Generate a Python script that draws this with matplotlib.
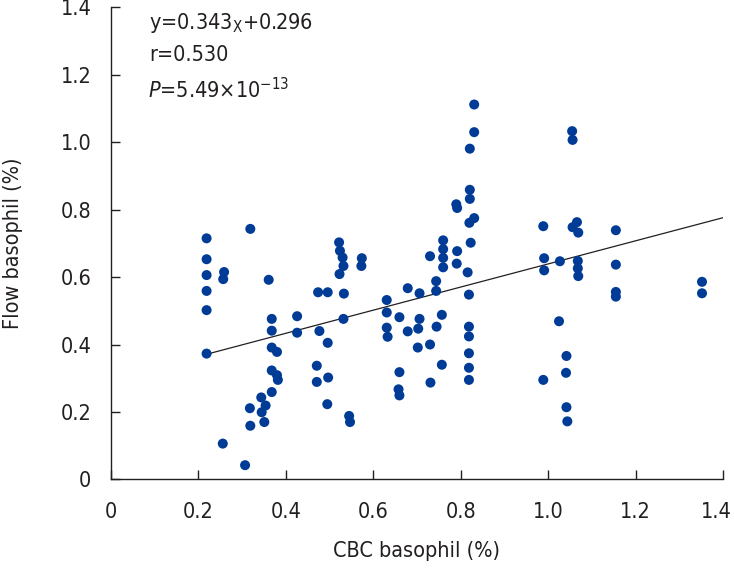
import matplotlib
matplotlib.use("Agg")
import matplotlib.pyplot as plt
import matplotlib.transforms as mtransforms
import numpy as np

plt.rcParams['font.family'] = ['DejaVu Sans Condensed', 'Liberation Sans Narrow', 'DejaVu Sans']
plt.rcParams['font.stretch'] = 'condensed'
plt.rcParams['mathtext.fontset'] = 'custom'
plt.rcParams['mathtext.rm'] = 'DejaVu Sans:stretch=condensed'
plt.rcParams['mathtext.it'] = 'DejaVu Sans:italic:stretch=condensed'

cbc = [0.219, 0.219, 0.219, 0.219, 0.219, 0.219,
       0.319, 0.259, 0.257, 0.361, 0.368, 0.368, 0.368, 0.380, 0.368, 0.380, 0.382,
       0.368, 0.344, 0.354, 0.345, 0.351, 0.318, 0.319, 0.256, 0.307, 0.426, 0.426,
       0.474, 0.496, 0.477, 0.496, 0.471, 0.471, 0.497, 0.495, 0.545, 0.547,
       0.522, 0.524, 0.530, 0.532, 0.523, 0.533, 0.532, 0.574, 0.573,
       0.631, 0.631, 0.631, 0.633, 0.660, 0.660, 0.658, 0.660,
       0.679, 0.679, 0.706, 0.706, 0.703, 0.702, 0.730, 0.730, 0.731,
       0.744, 0.744, 0.757, 0.745, 0.757, 0.760, 0.760, 0.760, 0.760,
       0.790, 0.792, 0.792, 0.791, 0.821, 0.821, 0.820, 0.831, 0.823, 0.816,
       0.819, 0.819, 0.819, 0.819, 0.819, 0.819, 0.831, 0.831, 0.821,
       1.055, 1.056, 0.989, 1.066, 1.056, 1.069, 1.155, 0.991, 0.991, 1.027,
       1.068, 1.068, 1.069, 1.155, 1.155, 1.155, 1.352, 1.352, 1.025, 1.042,
       1.041, 0.989, 1.042, 1.044]
flow = [0.715, 0.653, 0.606, 0.559, 0.502, 0.373,
        0.743, 0.615, 0.594, 0.592, 0.476, 0.441, 0.391, 0.378, 0.323, 0.309, 0.295,
        0.259, 0.243, 0.219, 0.199, 0.170, 0.211, 0.159, 0.106, 0.042, 0.484, 0.435,
        0.555, 0.555, 0.440, 0.405, 0.337, 0.289, 0.302, 0.223, 0.188, 0.170,
        0.703, 0.678, 0.658, 0.633, 0.609, 0.551, 0.476, 0.656, 0.633,
        0.532, 0.495, 0.450, 0.423, 0.481, 0.318, 0.267, 0.249,
        0.567, 0.439, 0.552, 0.476, 0.447, 0.391, 0.662, 0.400, 0.287,
        0.588, 0.559, 0.488, 0.453, 0.340, 0.709, 0.683, 0.657, 0.629,
        0.816, 0.805, 0.677, 0.640, 0.859, 0.832, 0.761, 0.775, 0.702, 0.614,
        0.548, 0.453, 0.424, 0.374, 0.331, 0.295, 1.112, 1.030, 0.981,
        1.033, 1.007, 0.751, 0.763, 0.748, 0.732, 0.739, 0.656, 0.620, 0.647,
        0.648, 0.626, 0.603, 0.637, 0.556, 0.542, 0.586, 0.552, 0.469, 0.366,
        0.316, 0.295, 0.214, 0.172]

slope = 0.343
intercept = 0.296
line_x = [0.22, 1.40]

xticks = [0, 0.2, 0.4, 0.6, 0.8, 1.0, 1.2, 1.4]
xtick_labels = ['0', '0.2', '0.4', '0.6', '0.8', '1.0', '1.2', '1.4']
yticks = [0, 0.2, 0.4, 0.6, 0.8, 1.0, 1.2, 1.4]
ytick_labels = ['0', '0.2', '0.4', '0.6', '0.8', '1.0', '1.2', '1.4']

fig = plt.figure(figsize=(7.34, 5.72), dpi=100)
ax = fig.add_axes([0.151, 0.162, 0.834, 0.825])

ax.scatter(cbc, flow, s=52, color='#003c96', edgecolors='none', zorder=3)
lx = np.array(line_x)
ax.plot(lx, slope * lx + intercept, color='#231f20', lw=0.9, zorder=2)

ax.set_xlim(0, 1.4)
ax.set_ylim(0, 1.4)
ax.set_xticks(xticks)
ax.set_xticklabels(xtick_labels)
ax.set_yticks(yticks)
ax.set_yticklabels(ytick_labels)

for s in ['top', 'right']:
    ax.spines[s].set_visible(False)
for s in ['left', 'bottom']:
    ax.spines[s].set_color('#231f20')
    ax.spines[s].set_linewidth(1.0)

fs = 15.5
ax.tick_params(axis='both', direction='in', length=6.5, width=1.0, color='#231f20',
               labelsize=fs, labelcolor='#231f20')
ax.tick_params(axis='y', pad=14)
ax.tick_params(axis='x', pad=16)

# nudge the last x tick label so it stays inside the canvas
last = ax.get_xticklabels()[-1]
last.set_transform(last.get_transform() +
                   mtransforms.ScaledTranslation(-5 / 72, 0, fig.dpi_scale_trans))

ax.set_xlabel('CBC basophil (%)', fontsize=fs, color='#231f20', labelpad=14)
ax.set_ylabel('Flow basophil (%)', fontsize=fs, color='#231f20', labelpad=27)

tc = '#231f20'
ax.text(0.0875, 1.39, r'y=0.343$_{\mathregular{X}}$+0.296', fontsize=fs,
        color=tc, va='top', ha='left')
ax.text(0.0875, 1.29, 'r=0.530', fontsize=fs, color=tc, va='top', ha='left')
ax.text(0.085, 1.195, r'$P$=5.49×10$^{\mathregular{-13}}$', fontsize=fs, color=tc,
        va='top', ha='left')

fig.savefig('out.png', dpi=100)
